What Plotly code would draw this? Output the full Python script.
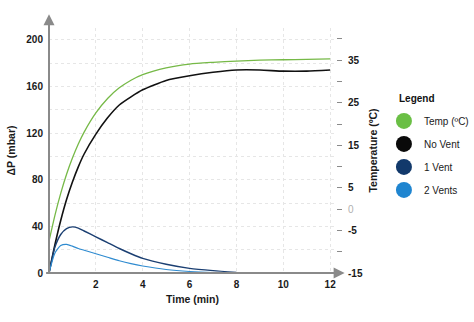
import plotly.graph_objects as go

# ---- data ----
time = [0, 0.25, 0.5, 0.75, 1, 1.25, 1.5, 2, 2.5, 3, 3.5, 4, 5, 6, 7, 8, 9, 10, 11, 12]
temp_c = [-7.5, -1.5, 3.7, 8.2, 12.0, 15.3, 18.1, 22.6, 26.0, 28.5, 30.3, 31.6, 33.2, 34.1, 34.5, 34.8, 35.0, 35.1, 35.2, 35.3]
no_vent = [0, 24, 45, 63, 78, 91, 102, 119, 133, 144, 151, 157, 165, 169, 172, 174, 174, 173, 173, 174]

vent_time = [0, 0.25, 0.5, 0.75, 1, 1.25, 1.5, 2, 2.5, 3, 3.5, 4, 5, 6, 7, 8]
one_vent = [0, 22, 33, 38, 39.5, 38.5, 36, 31, 26, 21, 16.5, 12.5, 7.5, 4, 2, 0.5]
two_vents = [0, 17, 23.5, 24.5, 23, 21, 19.5, 16.5, 13.5, 10.5, 8, 6, 3, 1.3, 0.4, 0]

x_ticks = [2, 4, 6, 8, 10, 12]
p_ticks = [0, 40, 80, 120, 160, 200]
t_ticks = [-15, -5, 0, 5, 15, 25, 35]
t_ticktext = ["-15", "-5", "<span style='color:#b0b0b0;font-weight:normal'>0</span>", "5", "15", "25", "35"]

legend_names = ["Temp (ºC)", "No Vent", "1 Vent", "2 Vents"]

# ---- style ----
C_GREEN = "#76b947"
C_BLACK = "#111111"
C_NAVY = "#1b3f72"
C_BLUE = "#2f8bd0"
LEG_COLORS = ["#6abf45", "#0a0a0a", "#12396b", "#1f85d0"]
AXIS_GREY = "#8a8a8a"
GRID = "#e6e6e6"
FONT = "Liberation Sans, Arial, sans-serif"

P_MAX = 210
T_MIN = -15
MBAR_PER_DEG = 3.648
T_MAX = T_MIN + P_MAX / MBAR_PER_DEG

fig = go.Figure()

fig.add_trace(go.Scatter(x=time, y=no_vent, mode="lines", line=dict(color=C_BLACK, width=1.6, shape="spline", smoothing=0.6), showlegend=False))
fig.add_trace(go.Scatter(x=vent_time, y=one_vent, mode="lines", line=dict(color=C_NAVY, width=1.4, shape="spline", smoothing=0.6), showlegend=False))
fig.add_trace(go.Scatter(x=vent_time, y=two_vents, mode="lines", line=dict(color=C_BLUE, width=1.2, shape="spline", smoothing=0.6), showlegend=False))
fig.add_trace(go.Scatter(x=time, y=temp_c, yaxis="y2", mode="lines", line=dict(color=C_GREEN, width=1.3, shape="spline", smoothing=0.6), showlegend=False))

for i, (name, col) in enumerate(zip(legend_names, LEG_COLORS)):
    fig.add_trace(go.Scatter(x=[None], y=[None], mode="markers", name=name, legendgroup=f"g{i}",
                             marker=dict(size=16, color=col, symbol="circle")))

L, R, T, B = 49, 138, 28, 49
fig.update_layout(
    width=474, height=322,
    margin=dict(l=L, r=R, t=T, b=B, autoexpand=False),
    paper_bgcolor="white", plot_bgcolor="white",
    font=dict(family=FONT, size=10, color="#1a1a1a"),
    xaxis=dict(range=[0, 12.25], tickvals=x_ticks, showgrid=True, gridcolor=GRID, griddash="dot", gridwidth=1,
               zeroline=False, showline=False, ticks="", ticklabelstandoff=4,
               tickfont=dict(size=10, family=FONT, weight="bold"),
               title=dict(text="<b>Time (min)</b>", font=dict(size=10.5), standoff=6)),
    yaxis=dict(range=[0, P_MAX], tickvals=p_ticks, showgrid=True, gridcolor=GRID, griddash="dot", gridwidth=1,
               minor=dict(dtick=20, tick0=0, showgrid=True, gridcolor=GRID, griddash="dot", gridwidth=1),
               zeroline=False, showline=False, ticks="", ticklabelstandoff=5,
               tickfont=dict(size=10, family=FONT, weight="bold"),
               title=dict(text="<b>ΔP (mbar)</b>", font=dict(size=10.5), standoff=8)),
    yaxis2=dict(range=[T_MIN, T_MAX], overlaying="y", side="right", anchor="x",
                tickvals=t_ticks, ticktext=t_ticktext, showgrid=False, zeroline=False, showline=False,
                ticks="outside", ticklen=5, tickcolor=AXIS_GREY, tickwidth=1,
                minor=dict(dtick=5, tick0=-15, ticks="outside", ticklen=5, tickcolor=AXIS_GREY, tickwidth=1),
                ticklabelstandoff=4,
                tickfont=dict(size=10, family=FONT, weight="bold"),
                title=dict(text="<b>Temperature (ºC)</b>", font=dict(size=10.5), standoff=7)),
    showlegend=True,
    legend=dict(x=1.167, y=0.68, xanchor="left", yanchor="top", tracegroupgap=4, traceorder="grouped",
                font=dict(size=10, family=FONT), bgcolor="rgba(0,0,0,0)"),
)

# "Legend" title
fig.add_annotation(xref="paper", yref="paper", x=1.211, y=0.68, xanchor="left", yanchor="bottom",
                   text="<b>Legend</b>", showarrow=False, font=dict(size=10, family=FONT, color="#111"))

# axis lines with arrows
fig.add_annotation(xref="paper", yref="paper", x=1.03, y=0, ax=-300, ay=0, text="", showarrow=True,
                   arrowhead=2, arrowsize=1.1, arrowwidth=2, arrowcolor=AXIS_GREY, standoff=0, startstandoff=0)
fig.add_annotation(xref="paper", yref="paper", x=0, y=1.056, ax=0, ay=261, text="", showarrow=True,
                   arrowhead=2, arrowsize=1.1, arrowwidth=2, arrowcolor=AXIS_GREY, standoff=0, startstandoff=0)

fig.write_html("out.html")
